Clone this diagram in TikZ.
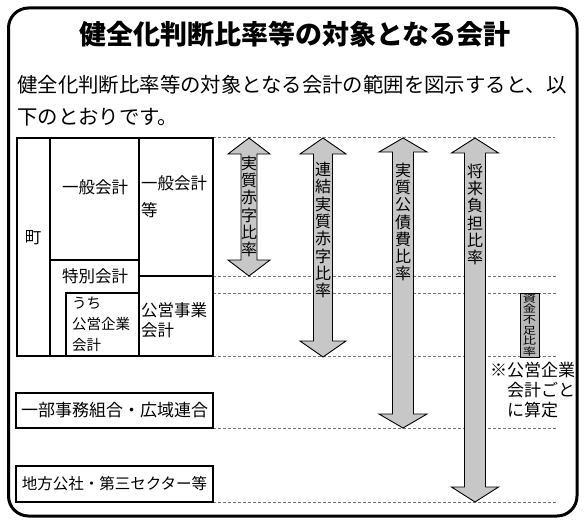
\documentclass[tikz,border=0pt]{standalone}
\usepackage{fontspec}
\setmainfont{Noto Sans CJK JP}
\usepackage{graphicx}
\newcommand\sxc[1]{\scalebox{1.3}[1]{#1}}
\newcommand\blockarr[6]{% x, top, bottom, shaft half, head half, head length
  \draw[barrow] (#1,#2) -- ({#1+#5},{#2+#6}) -- ({#1+#4},{#2+#6}) -- ({#1+#4},{#3-#6})
    -- ({#1+#5},{#3-#6}) -- (#1,#3) -- ({#1-#5},{#3-#6}) -- ({#1-#4},{#3-#6})
    -- ({#1-#4},{#2+#6}) -- ({#1-#5},{#2+#6}) -- cycle;}
\tikzset{
  outerframe/.style={line width=3pt, rounded corners=20pt},
  tabline/.style={line width=1.2pt},
  guide/.style={black!55, line width=0.8pt, dash pattern=on 3pt off 2pt},
  barrow/.style={draw=black, fill=black!22, line width=0.9pt, line join=miter},
  celltext/.style={inner sep=0pt, font=\fontsize{16.5}{20}\selectfont},
  vtext/.style={inner sep=0pt, align=center, font=\fontsize{16}{17.3}\selectfont},
  bbox/.style={draw, line width=1.5pt, inner sep=0pt, minimum width=197pt},
}
\begin{document}
\begin{tikzpicture}[x=1pt, y=-1pt]
\useasboundingbox (0,0) rectangle (585,524);
% outer frame
\draw[outerframe] (8.5,8) rectangle (577,516);
% title and intro
\node (title) [inner sep=0pt, font=\fontsize{27}{30}\selectfont\bfseries] at (295,34) {健全化判断比率等の対象となる会計};
\node (line1) [anchor=west, inner sep=0pt, font=\fontsize{20.4}{24}\selectfont] at (17,85) {健全化判断比率等の対象となる会計の範囲を図示すると、以};
\node (line2) [anchor=west, inner sep=0pt, font=\fontsize{20.4}{24}\selectfont] at (17,117) {下のとおりです。};
% guide lines
\draw[guide] (213,137.5) -- (555,137.5);
\foreach \yy in {276,293,356,428,502} \draw[guide] (213,\yy) -- (558,\yy);
% table
\draw[line width=1.6pt] (17,138) rectangle (213,356);
\draw[tabline] (50,138) -- (50,356);
\draw[tabline] (139,138) -- (139,356);
\draw[tabline] (50,260) -- (139,260);
\draw[tabline] (139,276) -- (213,276);
\draw[tabline] (66,356) -- (66,293) -- (139,293);
\node (cho) [celltext] at (33,238) {町};
\node (ippan) [celltext] at (95,187) {一般会計};
\node (ippanto) [celltext, anchor=west, align=left, font=\fontsize{16.5}{27}\selectfont] at (141,196.5) {一般会計\\等};
\node (tokubetsu) [celltext] at (95,276) {特別会計};
\node (uchi) [celltext, anchor=west, align=left, font=\fontsize{14.5}{21}\selectfont] at (72,324) {うち\\公営企業\\会計};
\node (koei) [celltext, anchor=west, align=left, font=\fontsize{16.5}{20}\selectfont] at (141,320) {公営事業\\会計};
% bottom boxes
\node (kumiai) [bbox, minimum height=35pt, font=\fontsize{17}{20}\selectfont] at (114.5,410.5) {一部事務組合・広域連合};
\node (kosha) [bbox, minimum height=36pt, font=\fontsize{15.5}{20}\selectfont] at (114.5,484) {地方公社・第三セクター等};
% block arrows
\blockarr{249}{138}{276}{8}{21}{16}
\blockarr{323}{138}{357}{9.5}{23}{16}
\blockarr{403}{138}{428}{10.5}{24}{14}
\blockarr{475}{138}{502}{10.5}{23.5}{15}
\node (r1) [vtext] at (249,206.5) {実\\質\\赤\\字\\比\\率};
\node (r2) [vtext] at (323,230) {連\\結\\実\\質\\赤\\字\\比\\率};
\node (r3) [vtext] at (403,222) {実\\質\\公\\債\\費\\比\\率};
\node (r4) [vtext] at (475,214.5) {将\\来\\負\\担\\比\\率};
% fund shortage ratio
\node (shikin) [draw, fill=black!28, line width=1pt, minimum width=19pt, minimum height=64pt, inner sep=0pt] at (529.5,325) {};
\node (shikintext) [inner sep=0pt, align=center, font=\fontsize{10.2}{10.6}\selectfont] at (shikin.center) {\sxc{資}\\\sxc{金}\\\sxc{不}\\\sxc{足}\\\sxc{比}\\\sxc{率}};
\node (note) [anchor=west, align=left, inner sep=0pt, font=\fontsize{17}{20}\selectfont] at (490,390) {※公営企業\\\hspace*{1em}会計ごと\\\hspace*{1em}に算定};
\end{tikzpicture}
\end{document}
